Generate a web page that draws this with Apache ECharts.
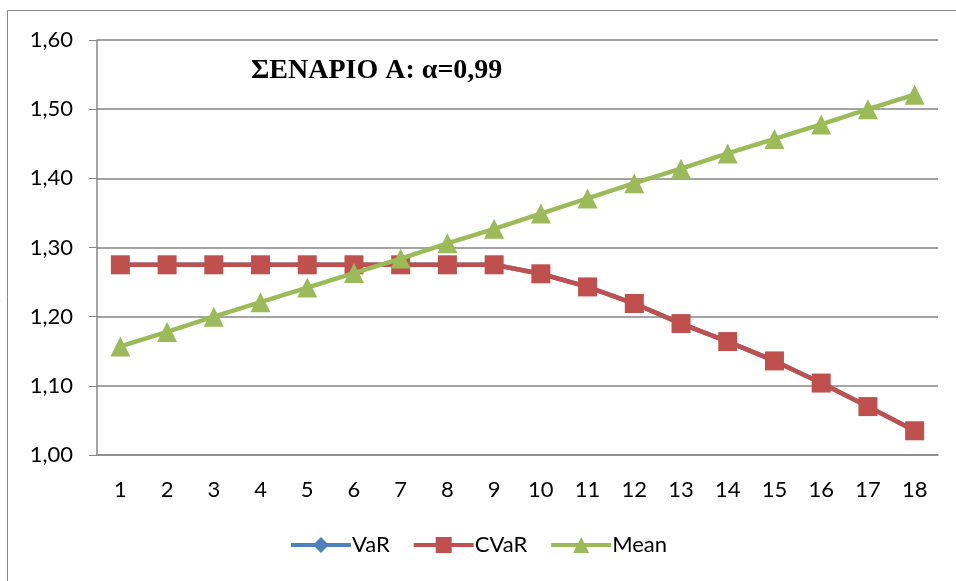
<!DOCTYPE html>
<html>
<head>
<meta charset="utf-8">
<script src="https://cdn.jsdelivr.net/npm/echarts@6/dist/echarts.min.js"></script>
<style>
  html, body { margin: 0; padding: 0; background: #fff; }
  #chart { width: 956px; height: 581px; }
</style>
</head>
<body>
<div id="chart"></div>
<script>
const categories = ['1', '2', '3', '4', '5', '6', '7', '8', '9', '10', '11', '12', '13', '14', '15', '16', '17', '18'];
// VaR is hidden under CVaR in the picture
const varValues = [1.275, 1.275, 1.275, 1.275, 1.275, 1.275, 1.275, 1.275, 1.275, 1.262, 1.243, 1.219, 1.190, 1.164, 1.136, 1.104, 1.070, 1.035];
const cvarValues = [1.275, 1.275, 1.275, 1.275, 1.275, 1.275, 1.275, 1.275, 1.275, 1.262, 1.243, 1.219, 1.190, 1.164, 1.136, 1.104, 1.070, 1.035];
const meanValues = [1.157, 1.178, 1.200, 1.221, 1.242, 1.263, 1.284, 1.306, 1.327, 1.349, 1.371, 1.393, 1.414, 1.436, 1.457, 1.478, 1.500, 1.521];

const myChart = echarts.init(document.getElementById('chart'));
const gray = '#868686';
const labelFont = 'Lato, "Open Sans", sans-serif';

const option = {
  animation: false,
  title: {
    text: 'ΣΕΝΑΡΙΟ Α: α=0,99',
    left: 246,
    top: 52,
    textStyle: {
      fontFamily: '"Liberation Serif", "Times New Roman", serif',
      fontWeight: 'bold',
      fontSize: 28,
      color: '#000'
    }
  },
  graphic: [{
    type: 'rect',
    shape: { x: 7.5, y: 10.5, width: 1000, height: 700 },
    style: { fill: null, stroke: gray, lineWidth: 1 },
    silent: true,
    z: -1
  }],
  legend: {
    bottom: 20,
    left: 'center',
    itemWidth: 60,
    itemHeight: 20,
    itemGap: 22,
    lineStyle: { width: 4 },
    textStyle: { fontFamily: labelFont, fontSize: 22, color: '#000', padding: [0, 0, 0, -4] },
    data: ['VaR', 'CVaR', 'Mean']
  },
  grid: {
    left: 97,
    right: 18,
    top: 40,
    bottom: 126
  },
  xAxis: {
    type: 'category',
    data: categories,
    boundaryGap: true,
    axisLine: { lineStyle: { color: gray, width: 1.5 } },
    axisTick: { alignWithLabel: false, length: 8, lineStyle: { color: gray } },
    axisLabel: {
      interval: 0,
      margin: 24,
      fontFamily: labelFont,
      fontSize: 22,
      color: '#000'
    }
  },
  yAxis: {
    type: 'value',
    min: 1.0,
    max: 1.6,
    interval: 0.1,
    axisLine: { show: true, lineStyle: { color: gray, width: 1.5 } },
    axisTick: { show: true, inside: false, length: 8, lineStyle: { color: gray } },
    axisLabel: {
      margin: 24,
      fontFamily: labelFont,
      fontSize: 22,
      color: '#000',
      formatter: v => v.toFixed(2).replace('.', ',')
    },
    splitLine: { lineStyle: { color: gray, width: 1.5 } }
  },
  series: [
    {
      name: 'VaR',
      type: 'line',
      data: varValues,
      symbol: 'diamond',
      symbolSize: 16,
      z: 1,
      itemStyle: { color: '#4F81BD' },
      lineStyle: { color: '#4F81BD', width: 4.5 }
    },
    {
      name: 'CVaR',
      type: 'line',
      data: cvarValues,
      symbol: 'rect',
      symbolSize: 19,
      z: 2,
      itemStyle: { color: '#C0504D' },
      lineStyle: { color: '#C0504D', width: 4.5 }
    },
    {
      name: 'Mean',
      type: 'line',
      data: meanValues,
      symbol: 'triangle',
      symbolSize: 20,
      z: 3,
      itemStyle: { color: '#9BBB59' },
      lineStyle: { color: '#9BBB59', width: 4.5 }
    }
  ]
};
myChart.setOption(option);
</script>
</body>
</html>
